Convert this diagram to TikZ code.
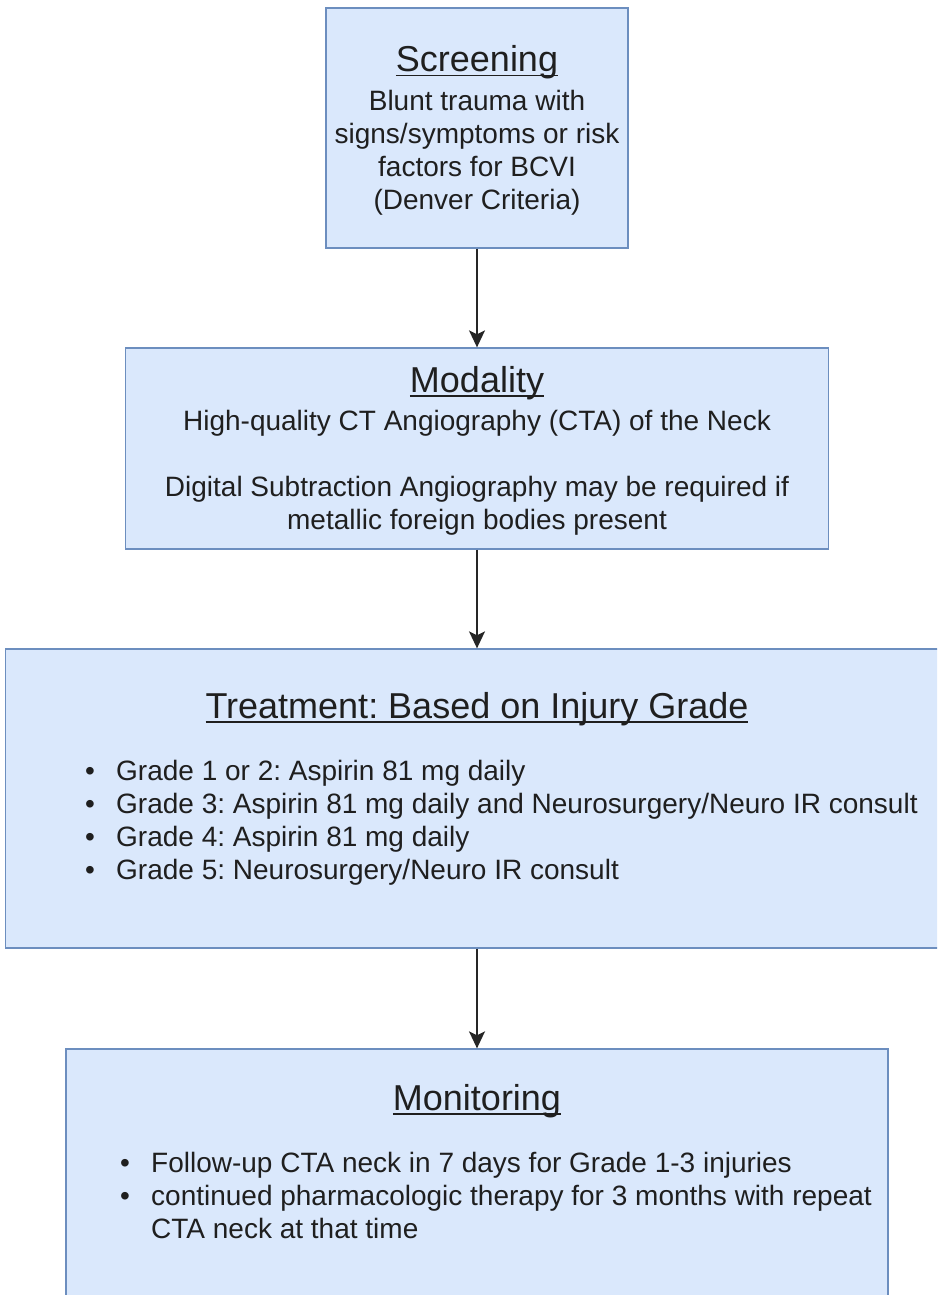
\documentclass[tikz,border=0pt]{standalone}
\usepackage{fontspec}
\setmainfont{Liberation Sans}
\usetikzlibrary{arrows.meta}

\definecolor{boxfill}{HTML}{DAE8FC}
\definecolor{boxline}{HTML}{6C8EBF}

\newsavebox\hdbox
\newcommand\hd[1]{\sbox\hdbox{#1}\rlap{\rule[-4.5pt]{\wd\hdbox}{1.6pt}}\usebox\hdbox}
\newcommand\bul{\makebox[31pt][l]{\textbullet}}

\tikzset{
  stage/.style={draw=boxline, fill=boxfill, line width=1.3pt, inner sep=0pt},
  head/.style={font=\fontsize{36}{43}\selectfont\frenchspacing, text=black!88, inner sep=0pt, anchor=base},
  body/.style={font=\fontsize{28}{33}\selectfont\frenchspacing, text=black!88, inner sep=0pt, anchor=base},
  flow/.style={-{Stealth[length=17pt,width=16pt,inset=4pt]}, line width=1.7pt, black!85},
}

\begin{document}
\begin{tikzpicture}[x=1pt,y=-1pt]
            \useasboundingbox (0,0) rectangle (937,1295);
            \clip (0,0) rectangle (937,1295);

            % stages
            \node[stage, minimum width=302pt, minimum height=240pt] (screen) at (477,128) {};
            \node[stage, minimum width=703pt, minimum height=201pt] (modal) at (477,448.5) {};
            \node[stage, minimum width=943pt, minimum height=299pt] (treat) at (477,798.5) {};
            \node[stage, minimum width=822pt, minimum height=262pt] (monit) at (477,1180) {};

            % texts (multi-line nodes sit on their last baseline)
            \node[head] (screenhd) at (477,72) {\hd{Screening}};
            \node[body, align=center] (screentx) at (477,209)
                {Blunt trauma with\\signs/symptoms or risk\\factors for BCVI\\(Denver Criteria)};

            \node[head] (modalhd) at (477,392) {\hd{Modality}};
            \node[body, align=center] (modaltx) at (477,529)
                {High-quality CT Angiography (CTA) of the Neck\\[33pt]Digital Subtraction Angiography may be required if\\metallic foreign bodies present};

            \node[head] (treathd) at (477,718) {\hd{Treatment: Based on Injury Grade}};
            \node[body, align=left, anchor=base west] (treattx) at (85,879)
                {\bul Grade 1 or 2: Aspirin 81 mg daily\\
                 \bul Grade 3: Aspirin 81 mg daily and Neurosurgery/Neuro IR consult\\
                 \bul Grade 4: Aspirin 81 mg daily\\
                 \bul Grade 5: Neurosurgery/Neuro IR consult};

            \node[head] (monithd) at (477,1110) {\hd{Monitoring}};
            \node[body, align=left, anchor=base west] (monittx) at (120,1238)
                {\bul Follow-up CTA neck in 7 days for Grade 1-3 injuries\\
                 \bul continued pharmacologic therapy for 3 months with repeat\\
                 \hspace*{31pt}CTA neck at that time};

            % arrows
            \draw[flow] (screen.south) -- (modal.north);
            \draw[flow] (modal.south) -- (treat.north);
            \draw[flow] (treat.south) -- (monit.north);
\end{tikzpicture}
\end{document}
